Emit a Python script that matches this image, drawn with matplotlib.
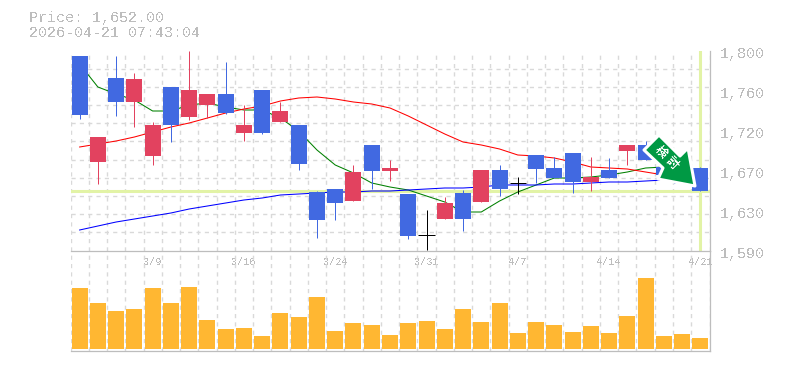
import matplotlib
matplotlib.use('Agg')
import matplotlib.pyplot as plt
from matplotlib.patches import Polygon
from matplotlib.transforms import ScaledTranslation

plt.rcParams['text.antialiased'] = False
plt.rcParams['font.family'] = ['Liberation Mono', 'Noto Sans CJK JP', 'DejaVu Sans']

W, H = 785, 370
GREY = '#bdbdbd'
GRID = '#d9d9d9'
UP = '#4169e1'
DOWN = '#e2425f'

title_lines = ['Price: 1,652.00', '2026-04-21 07:43:04']
ytick_labels = ['1,800', '1,760', '1,720', '1,670', '1,630', '1,590']
ytick_values = [1800, 1758, 1716, 1674, 1632, 1590]
xtick_pos = [4, 9, 14, 19, 24, 29, 34]
xtick_labels = ['3/9', '3/16', '3/24', '3/31', '4/7', '4/14', '4/21']
last_price = 1652
kinds = ['u','d','u','d','d','u','d','d','u','d','u','d','u','u','u','d','u','d','u','x',
         'd','u','d','u','x','u','u','u','d','u','d','u','u','u','u']


def p(y):
    return 1590 + (250.5 - y) * 1.05


top_px = [56,137,78,79,125,87,90,94,94,125,90,111,125,192,189,172,145,168,194,235,
          203,193,170,170,183,155,168,153,177,170,145,145,167,170,168]
bot_px = [115,162,102,102,156,125,117,105,113,133,133,122,164,220,203,201,171,171,236,235,
          219,219,202,189,183,169,178,182,182,178,151,160,175,184,191]
high_px = [56,137,56,73,122,87,51,94,62,105,90,102,125,191,189,165,145,160,194,210,
           197,190,170,165,177,155,157,153,157,158,145,141,167,170,167]
low_px = [119,184,116,127,165,142,120,118,114,141,134,122,170,238,220,201,189,181,239,250,
          219,231,202,196,194,183,178,193,191,178,165,160,175,184,191]
top = [p(v) for v in top_px]
bottom = [p(v) for v in bot_px]
high = [p(v) for v in high_px]
low = [p(v) for v in low_px]

ma_short = [p(v) for v in [64,87,94,100,111,111,105,103,107,110,110,118,131,150,165,173,183,187,190,196,
                           202,212,212,201,192,185,178,178,177,175,172,168,167]]
ma_mid = [p(v) for v in [147,144,141,137,132,127,123,118,113,109,106,101,98,97,99,102,104,108,116,125,
                         134,142,145,149,155,156,158,162,167,168,169,172,175]]
ma_long = [p(v) for v in [230,226,222,219,216,213,209,206,203,200,198,195,194,193,192,192,191,191,190,189,
                          188,188,187,185,185,185,184,184,183,182,182,181,180]]
volume = [61,46,38,40,61,46,62,29,20,21,13,36,32,52,18,26,24,14,
          26,28,20,40,27,46,16,27,24,17,23,16,33,71,13,15,11]

fig = plt.figure(figsize=(W / 100, H / 100), dpi=100)
fig.patch.set_facecolor('white')


def box(l, t, r, b):
    return [l / W, 1 - b / H, (r - l) / W, (b - t) / H]


ax = fig.add_axes(box(70.5, 50.5, 709.5, 250.5))
vx = fig.add_axes(box(70.5, 250.5, 709.5, 350.5), sharex=ax)
xs = list(range(len(kinds)))

for a in (ax, vx):
    a.set_xlim(-0.5, 34.5)
    a.set_axisbelow(True)
    a.set_xticks([i - 0.5 for i in range(36)], minor=True)
    a.grid(True, axis='x', which='minor', color=GRID, ls=(0, (3, 3)), lw=1)
    a.tick_params(which='both', length=0)
    for s in a.spines.values():
        s.set_visible(False)
    a.patch.set_alpha(0)

ax.set_ylim(1590, 1800)
ax.set_yticks([1590 + 210 * i / 11 for i in range(12)], minor=True)
ax.grid(True, axis='y', which='minor', color=GRID, ls=(0, (3, 3)), lw=1)
ax.set_yticks(ytick_values, ytick_labels)
ax.yaxis.tick_right()
ax.tick_params(axis='y', which='major', pad=7.5, labelcolor=GREY, labelsize=10.8)
for lab in ax.get_yticklabels():
    lab.set_transform(lab.get_transform() + ScaledTranslation(0, -2 / 100, fig.dpi_scale_trans))

ax.axhline(last_price, color='#e2f3a6', lw=2.2, zorder=1)
ax.axvline(34, color='#e2f3a6', lw=2.2, zorder=1)

for vals, col in ((ma_short, '#008000'), (ma_mid, '#ff0000'), (ma_long, '#0000ff')):
    ax.plot(xs[:len(vals)], vals, color=col, lw=0.75, zorder=2)

for i, k in enumerate(kinds):
    col = {'u': UP, 'd': DOWN, 'x': 'black'}[k]
    ax.vlines(i, low[i], high[i], color=col, lw=0.72, zorder=3)
    if k == 'x':
        ax.hlines(top[i], i - 0.44, i + 0.44, color=col, lw=0.72, zorder=3)
    else:
        ax.bar(i, top[i] - bottom[i], bottom=bottom[i], width=0.876, color=col, lw=0, zorder=3,
               antialiased=False)

vx.set_ylim(-2, 98)
vx.bar(xs, volume, width=0.876, color='#ffb732', lw=0, zorder=3, antialiased=False)
vx.set_yticks([])
ax.set_xticks(xtick_pos, xtick_labels)
ax.tick_params(axis='x', which='major', labelbottom=True, labelsize=7.4, labelcolor=GREY, pad=5)
vx.tick_params(axis='x', which='major', labelbottom=False)

for a in (ax, vx):
    for name in ('bottom', 'right'):
        a.spines[name].set_visible(True)
        a.spines[name].set_color(GREY)
        a.spines[name].set_linewidth(0.9)

for txt, y in zip(title_lines, (18, 33)):
    fig.text(29 / W, 1 - y / H, txt, color=GREY, fontsize=10.8, va='center', ha='left')

ov = fig.add_axes([0, 0, 1, 1])
ov.set_xlim(0, W)
ov.set_ylim(H, 0)
ov.axis('off')
arrow = [(659, 135), (644, 150), (663, 168), (658, 179), (695, 186), (688, 148), (680, 156)]
ov.add_patch(Polygon(arrow, closed=True, fc='#009944', ec='white', lw=2.2, joinstyle='round', zorder=5))
for ch, (cx, cy) in zip('検討', [(660.7, 152), (672, 163)]):
    ov.text(cx, cy, ch, color='white', fontsize=8.5, rotation=-45, ha='center', va='center',
            fontweight='bold', family=['Noto Sans CJK JP', 'DejaVu Sans'], zorder=6)

fig.savefig('out.png', dpi=100)
